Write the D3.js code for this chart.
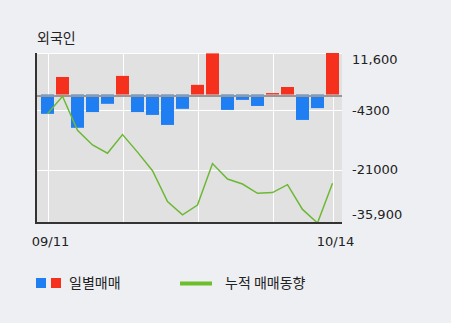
<!DOCTYPE html>
<html>
<head>
<meta charset="utf-8">
<script src="https://d3js.org/d3.v7.min.js"></script>
<style>
  body { margin: 0; background: #eeeff3; }
  svg { display: block; }
</style>
</head>
<body>
<svg></svg>
<script>
// daily net buying of foreigners, and running total
var daily = [-5400, 4900, -9300, -4900, -2600, 5200, -4900, -5700, -8500, -4000,
             2700, 11500, -4300, -1500, -3200, 400, 2100, -7100, -3800, 11600];
var cumul = [-5400, -500, -10000, -14100, -16400, -11200, -16100, -21300, -29900, -33600,
             -30900, -19300, -23600, -25000, -27600, -27400, -25200, -32100, -35900, -24800];
var yTicks = [11600, -4300, -21000, -35900];
var yTickText = ['11,600', '-4300', '-21000', '-35,900'];
var xTickIdx = [0, 19];
var xTickText = ['09/11', '10/14'];
var xGridIdx = [0, 5, 10, 15, 19];

var W = 451, H = 323;
var pLeft = 36, pRight = 342, pTop = 53, pBottom = 223;

var svg = d3.select('svg').attr('width', W).attr('height', H);

var x = d3.scalePoint()
    .domain(d3.range(daily.length))
    .range([47.5, 332.5]);
var y = d3.scaleLinear()
    .domain([-35900, 11600])
    .range([pBottom, pTop]);

svg.append('text')
    .attr('x', 37).attr('y', 43)
    .attr('font-family', '"Noto Sans CJK KR", sans-serif')
    .attr('font-size', 14)
    .attr('fill', '#222')
    .text('외국인');

// plot background
svg.append('rect')
    .attr('x', pLeft).attr('y', pTop)
    .attr('width', pRight - pLeft).attr('height', pBottom - pTop)
    .attr('fill', '#e1e1e1');

// grid
svg.append('g').selectAll('line')
    .data(yTicks)
    .enter().append('line')
    .attr('x1', pLeft).attr('x2', pRight)
    .attr('y1', function(d) { return Math.round(y(d)) + 0.5; })
    .attr('y2', function(d) { return Math.round(y(d)) + 0.5; })
    .attr('stroke', '#fff');

svg.append('g').selectAll('line')
    .data(xGridIdx)
    .enter().append('line')
    .attr('x1', function(d) { return Math.round(x(d)) + 0.5; })
    .attr('x2', function(d) { return Math.round(x(d)) + 0.5; })
    .attr('y1', pTop).attr('y2', pBottom)
    .attr('stroke', '#fff');

// bars
svg.append('g').selectAll('rect')
    .data(daily)
    .enter().append('rect')
    .attr('x', function(d, i) { return x(i) - 6.5; })
    .attr('width', 13)
    .attr('y', function(d) { return d > 0 ? y(d) : y(0); })
    .attr('height', function(d) { return Math.abs(y(d) - y(0)); })
    .attr('fill', function(d) { return d > 0 ? '#f5301c' : '#1e7ef2'; });

// zero line
svg.append('line')
    .attr('x1', pLeft).attr('x2', pRight)
    .attr('y1', y(0) + 1.5).attr('y2', y(0) + 1.5)
    .attr('stroke', '#979797')
    .attr('stroke-width', 2);

// cumulative line
var line = d3.line()
    .x(function(d, i) { return x(i); })
    .y(function(d) { return y(d); });

svg.append('path')
    .datum(cumul)
    .attr('d', line)
    .attr('fill', 'none')
    .attr('stroke', '#6cb834')
    .attr('stroke-width', 1.5);

// axis lines
svg.append('line')
    .attr('x1', pLeft).attr('x2', pLeft)
    .attr('y1', pTop).attr('y2', pBottom + 1)
    .attr('stroke', '#333').attr('stroke-width', 2);
svg.append('line')
    .attr('x1', pLeft - 1).attr('x2', pRight)
    .attr('y1', pBottom).attr('y2', pBottom)
    .attr('stroke', '#333').attr('stroke-width', 2);

// y labels on the right
svg.append('g').selectAll('text')
    .data(yTicks)
    .enter().append('text')
    .attr('x', 352)
    .attr('y', function(d) { return Math.max(59, Math.min(214, y(d))); })
    .attr('dy', '0.36em')
    .attr('font-family', '"DejaVu Sans", sans-serif')
    .attr('font-size', 13)
    .attr('fill', '#222')
    .text(function(d, i) { return yTickText[i]; });

// x labels
svg.append('g').selectAll('text')
    .data(xTickIdx)
    .enter().append('text')
    .attr('x', function(d) { return x(d) + 3; })
    .attr('y', 246)
    .attr('text-anchor', 'middle')
    .attr('font-family', '"DejaVu Sans", sans-serif')
    .attr('font-size', 13)
    .attr('fill', '#222')
    .text(function(d, i) { return xTickText[i]; });

// legend
var lg = svg.append('g');
lg.append('rect').attr('x', 36).attr('y', 278).attr('width', 10).attr('height', 10).attr('fill', '#1e7ef2');
lg.append('rect').attr('x', 51).attr('y', 278).attr('width', 10).attr('height', 10).attr('fill', '#f5301c');
lg.append('text')
    .attr('x', 69).attr('y', 288)
    .attr('font-family', '"Noto Sans CJK KR", sans-serif')
    .attr('font-size', 14)
    .attr('fill', '#222')
    .text('일별매매');
lg.append('line')
    .attr('x1', 180).attr('x2', 212)
    .attr('y1', 283.5).attr('y2', 283.5)
    .attr('stroke', '#6cbf2a').attr('stroke-width', 4);
lg.append('text')
    .attr('x', 225).attr('y', 288)
    .attr('font-family', '"Noto Sans CJK KR", sans-serif')
    .attr('font-size', 14)
    .attr('fill', '#222')
    .text('누적 매매동향');
</script>
</body>
</html>
